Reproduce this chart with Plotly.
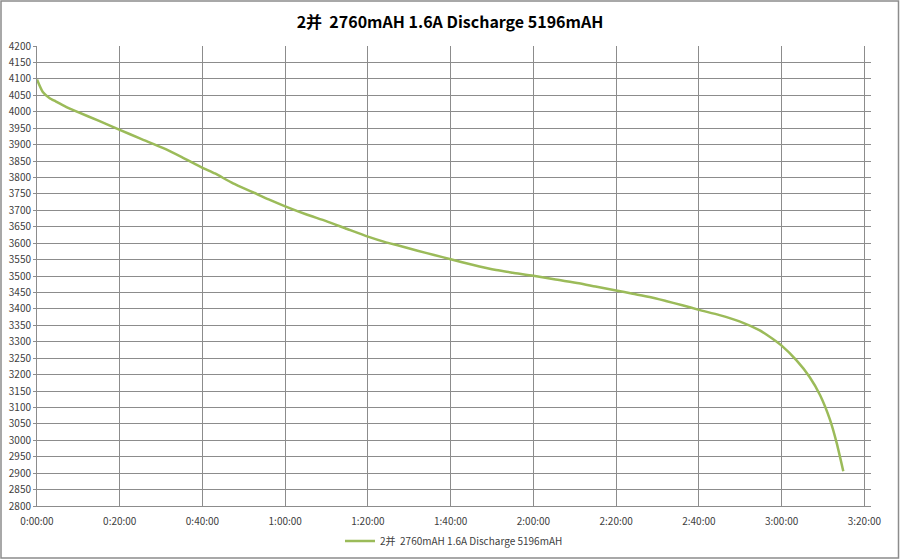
import plotly.graph_objects as go

# ---- data ----
series_name = "2并  2760mAH 1.6A Discharge 5196mAH"
time_min = [0, 1.4, 3, 4.6, 7, 9.5, 15, 20, 25, 30.4, 35, 39.9, 43, 47.4, 52, 56,
            60, 65, 69.9, 75, 80, 84, 87.6, 92, 96, 100, 105, 111, 115, 120, 125,
            131, 135, 140, 144, 148.1, 152, 156, 160, 165, 169.8, 174.6, 176.3,
            180, 183.6, 186.8, 189.3, 191.7, 193.3, 194.9]
voltage_mv = [4098, 4060, 4042, 4031, 4015, 4001, 3972, 3945, 3918, 3890, 3862, 3830,
              3812, 3782, 3756, 3733, 3712, 3688, 3667, 3643, 3620, 3604, 3592, 3577,
              3564, 3551, 3535, 3518, 3510, 3501, 3490, 3478, 3468, 3456, 3446, 3436,
              3424, 3411, 3397, 3381, 3362, 3335, 3322, 3288, 3243, 3192, 3137, 3062,
              2992, 2906]
x_tick_vals = [0, 20, 40, 60, 80, 100, 120, 140, 160, 180, 200]
x_tick_text = ["0:00:00", "0:20:00", "0:40:00", "1:00:00", "1:20:00", "1:40:00",
               "2:00:00", "2:20:00", "2:40:00", "3:00:00", "3:20:00"]

FONT = "Noto Sans CJK SC, Noto Sans, sans-serif"
W, H = 900, 560
ML, MR, MT, MB = 37, 29, 46, 54
pw = W - ML - MR
ph = H - MT - MB
grid = "#8c8c8c"

fig = go.Figure()
fig.add_trace(go.Scatter(
    x=time_min, y=voltage_mv, mode="lines", name=series_name,
    line=dict(color="#9BBB59", width=2.5, shape="spline", smoothing=0.6),
))

fig.update_layout(
    width=W, height=H,
    margin=dict(l=ML, r=MR, t=MT, b=MB, autoexpand=False),
    paper_bgcolor="white", plot_bgcolor="white",
    font=dict(family=FONT, color="#404040", size=10),
    title=dict(text="<b>" + series_name + "</b>", x=0.5, xanchor="center",
               y=1 - 22 / H, yanchor="middle", yref="container", automargin=False,
               font=dict(family=FONT, size=16, color="#000000")),
    showlegend=True,
    legend=dict(orientation="h", x=0.5, xanchor="center",
                y=-(541 - (H - MB)) / ph, yanchor="middle",
                font=dict(size=10, color="#404040"), bgcolor="rgba(0,0,0,0)"),
    xaxis=dict(range=[0, 201.6], tickvals=x_tick_vals, ticktext=x_tick_text,
               showgrid=True, gridcolor=grid, gridwidth=1,
               showline=True, linecolor=grid, linewidth=1,
               ticks="", ticklabelstandoff=6, zeroline=False, automargin=False,
               tickfont=dict(size=10, color="#404040")),
    yaxis=dict(range=[2800, 4200], dtick=50, tick0=2800,
               showgrid=True, gridcolor=grid, gridwidth=1,
               showline=True, linecolor=grid, linewidth=1,
               ticks="outside", ticklen=3, tickcolor=grid, automargin=False,
               zeroline=False, tickfont=dict(size=10, color="#404040")),
)

# outer chart frame
fig.add_shape(type="rect", xref="paper", yref="paper",
              x0=-(ML - 1) / pw, x1=1 + (MR - 1.5) / pw,
              y0=-(MB - 2) / ph, y1=1 + (MT - 1) / ph,
              line=dict(color="#8c8c8c", width=1.5), layer="below")

fig.write_html("out.html", config={"displayModeBar": False},
               post_script="document.body.style.margin='0px';document.body.style.padding='0px';")
